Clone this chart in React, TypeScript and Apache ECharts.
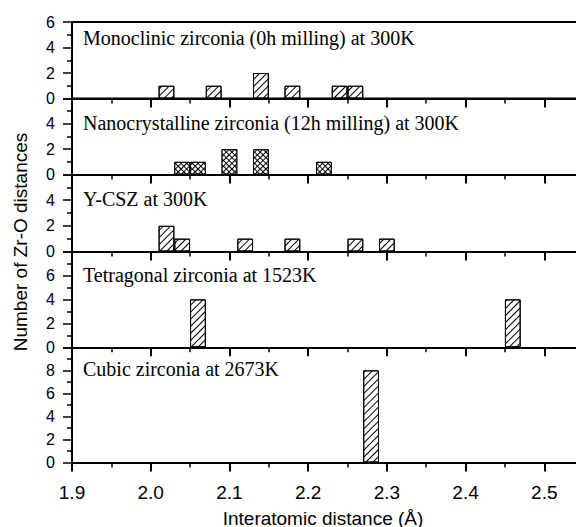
import React, { useEffect, useRef } from "react";
import * as echarts from "echarts";

// Panel titles
const panelTitles = [
  "Monoclinic zirconia (0h milling) at 300K",
  "Nanocrystalline zirconia (12h milling) at 300K",
  "Y-CSZ at 300K",
  "Tetragonal zirconia at 1523K",
  "Cubic zirconia at 2673K",
];

// Bar data: [interatomic distance (Å), number of Zr-O distances]
const monoclinic: [number, number][] = [
  [2.02, 1], [2.08, 1], [2.14, 2], [2.18, 1], [2.24, 1], [2.26, 1],
];
const nanocrystalline: [number, number][] = [
  [2.04, 1], [2.06, 1], [2.1, 2], [2.14, 2], [2.22, 1],
];
const ycsz: [number, number][] = [
  [2.02, 2], [2.04, 1], [2.12, 1], [2.18, 1], [2.26, 1], [2.3, 1],
];
const tetragonal: [number, number][] = [
  [2.06, 4], [2.46, 4],
];
const cubic: [number, number][] = [
  [2.28, 8],
];

const panelData = [monoclinic, nanocrystalline, ycsz, tetragonal, cubic];
const yMaxes = [6, 6, 6, 8, 10];
const xMin = 1.9;
const xMax = 2.6;
const binWidth = 0.02;

// layout
const W = 576;
const H = 527;
const plotLeft = 72;
const plotRightPx = 623; // right frame lies beyond the visible area
const bounds = [22, 98.5, 174.5, 251.5, 347.3, 462.5];

const hatch = {
  symbol: "rect",
  symbolSize: 1,
  color: "#000",
  dashArrayX: [1, 0],
  dashArrayY: [1, 4],
  rotation: -Math.PI / 4,
};
const crossHatch = {
  symbol: "rect",
  symbolSize: 1,
  color: "#fff",
  dashArrayX: [3, 1],
  dashArrayY: [3, 1],
  rotation: Math.PI / 4,
};

export default function App() {
  const ref = useRef<HTMLDivElement>(null);
  useEffect(() => {
    if (!ref.current) return;
    const chart = echarts.init(ref.current, null, { renderer: "svg" });
    const pxPerUnit = (plotRightPx - plotLeft) / (xMax - xMin);
    const barPx = binWidth * pxPerUnit;

    const grids = yMaxes.map((_, i) => ({
      left: plotLeft,
      width: plotRightPx - plotLeft,
      top: bounds[i],
      height: bounds[i + 1] - bounds[i],
      outerBoundsMode: "none",
      containLabel: false,
      show: i === 0,
      borderColor: "#000",
      borderWidth: 2,
      backgroundColor: "transparent",
    }));

    const xAxes = yMaxes.map((_, i) => ({
      type: "value",
      gridIndex: i,
      min: xMin,
      max: xMax,
      interval: 0.1,
      axisLine: { show: true, lineStyle: { color: "#000", width: 2 } },
      axisTick: { show: true, length: 9, lineStyle: { color: "#000", width: 2 } },
      minorTick: { show: true, splitNumber: 2, length: 5, lineStyle: { color: "#000", width: 1.5 } },
      splitLine: { show: false },
      axisLabel: {
        show: i === 4,
        showMaxLabel: false,
        color: "#000",
        fontFamily: "Liberation Sans",
        fontSize: 19,
        margin: 20,
        formatter: (v: number) => v.toFixed(1),
      },
    }));

    const yAxes = yMaxes.map((m, i) => ({
      type: "value",
      gridIndex: i,
      min: 0,
      max: m,
      interval: 2,
      axisLine: { show: true, onZero: false, lineStyle: { color: "#000", width: 2 } },
      axisTick: { show: true, length: 9, lineStyle: { color: "#000", width: 1.5 } },
      minorTick: { show: true, splitNumber: 2, length: 5, lineStyle: { color: "#000", width: 1.5 } },
      splitLine: { show: false },
      axisLabel: {
        show: true,
        showMaxLabel: i === 0,
        color: "#000",
        fontFamily: "Liberation Sans",
        fontSize: 16,
        margin: 17,
      },
    }));

    const series = panelData.map((d, i) => ({
      type: "bar",
      xAxisIndex: i,
      yAxisIndex: i,
      data: d,
      barWidth: barPx,
      itemStyle: {
        color: i === 1 ? "#000" : "#fff",
        borderColor: "#000",
        borderWidth: 1,
        decal: i === 1 ? crossHatch : hatch,
      },
      emphasis: { disabled: true },
    }));

    const titleY = [39, 124, 200, 276, 370];
    const graphics: any[] = panelTitles.map((t, i) => ({
      type: "text",
      left: 83,
      top: titleY[i] - 11,
      style: {
        text: t,
        font: "20px 'Liberation Serif'",
        fill: "#000",
      },
    }));
    graphics.push({
      type: "text",
      x: 323,
      y: 518,
      style: {
        text: "Interatomic distance (Å)",
        font: "19px 'Liberation Sans'",
        fill: "#000",
        align: "center",
        verticalAlign: "middle",
      },
    });
    graphics.push({
      type: "text",
      x: 20,
      y: 242,
      rotation: Math.PI / 2,
      style: {
        text: "Number of Zr-O distances",
        font: "19px 'Liberation Sans'",
        fill: "#000",
        align: "center",
        verticalAlign: "middle",
      },
    });

    chart.setOption({
      animation: false,
      backgroundColor: "#fff",
      grid: grids,
      xAxis: xAxes,
      yAxis: yAxes,
      series,
      graphic: graphics,
    });
    return () => chart.dispose();
  }, []);
  return (
    <div
      ref={ref}
      style={{ position: "fixed", left: 0, top: 0, width: W, height: H }}
    />
  );
}
